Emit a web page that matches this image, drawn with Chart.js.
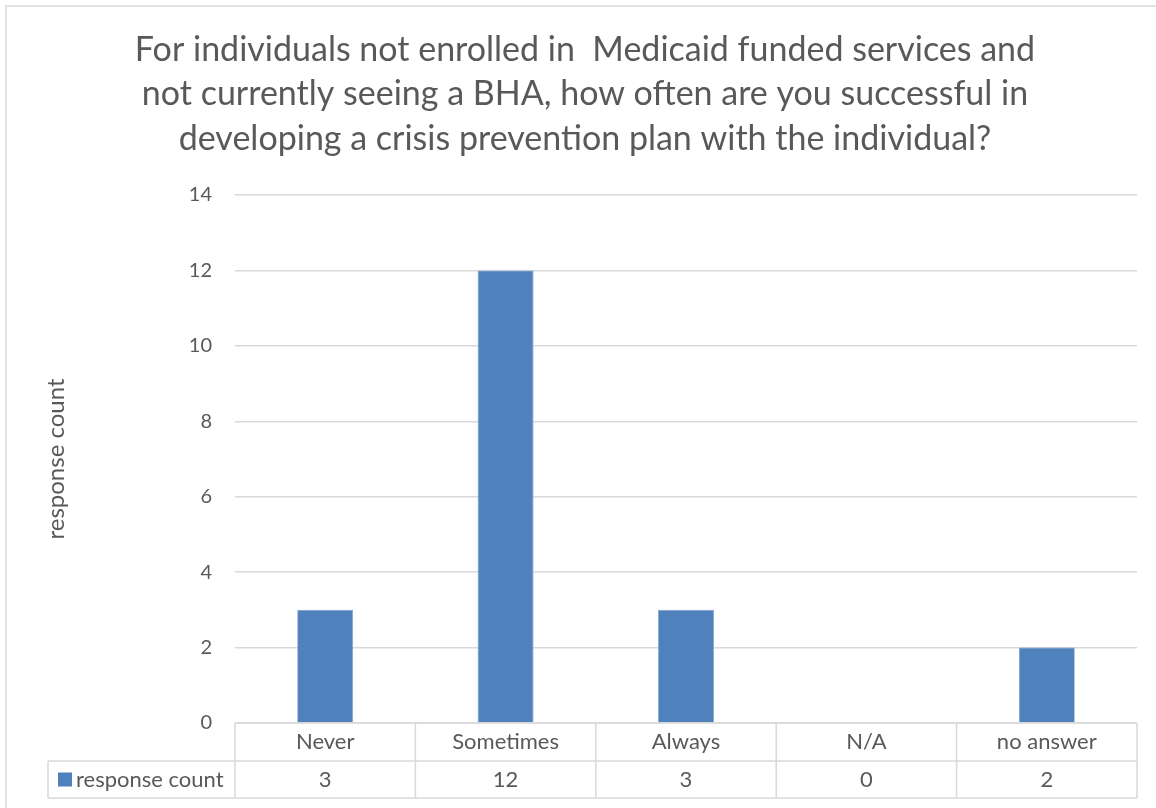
<!DOCTYPE html>
<html>
<head>
<meta charset="utf-8">
<script src="https://cdn.jsdelivr.net/npm/chart.js@4"></script>
<style>
  html, body { margin: 0; padding: 0; background: #ffffff; }
  #wrap { width: 1156px; height: 808px; position: relative; }
</style>
</head>
<body>
<div id="wrap"><canvas id="chart" width="1156" height="808"></canvas></div>
<script>
// Survey responses
const categories = ['Never', 'Sometimes', 'Always', 'N/A', 'no answer'];
const responseCount = [3, 12, 3, 0, 2];
const seriesName = 'response count';
const titleLines = [
  'For individuals not enrolled in  Medicaid funded services and',
  'not currently seeing a BHA, how often are you successful in',
  'developing a crisis prevention plan with the individual?'
];

const FONT = 'Lato, "Open Sans", sans-serif';
const TEXT = '#595959';
const LINE = '#d9d9d9';
const BAR = '#4f81bd';

// Frame, title and the data table underneath the plot
const decorations = {
  id: 'decorations',
  beforeDraw(chart) {
    const ctx = chart.ctx;
    ctx.save();
    ctx.fillStyle = '#ffffff';
    ctx.fillRect(0, 0, chart.width, chart.height);
    ctx.strokeStyle = LINE;
    ctx.lineWidth = 1.5;
    ctx.beginPath();
    ctx.moveTo(6, chart.height);
    ctx.lineTo(6, 6);
    ctx.lineTo(chart.width, 6);
    ctx.stroke();

    ctx.fillStyle = TEXT;
    ctx.font = '34px ' + FONT;
    ctx.textAlign = 'center';
    ctx.textBaseline = 'middle';
    titleLines.forEach((t, i) => ctx.fillText(t, 585, 50 + i * 44.5));
    ctx.restore();
  },
  afterDraw(chart) {
    const ctx = chart.ctx;
    const x = chart.scales.x;
    const area = chart.chartArea;
    const n = categories.length;
    const step = (area.right - area.left) / n;
    const row1Top = area.bottom;
    const row2Top = area.bottom + 38;
    const row2Bottom = area.bottom + 75;
    const legendLeft = 48;

    ctx.save();
    ctx.strokeStyle = LINE;
    ctx.lineWidth = 1.5;
    ctx.beginPath();
    // horizontal rules
    ctx.moveTo(area.left, row1Top); ctx.lineTo(area.right, row1Top);
    ctx.moveTo(legendLeft, row2Top); ctx.lineTo(area.right, row2Top);
    ctx.moveTo(legendLeft, row2Bottom); ctx.lineTo(area.right, row2Bottom);
    // vertical rules
    ctx.moveTo(legendLeft, row2Top); ctx.lineTo(legendLeft, row2Bottom);
    for (let i = 0; i <= n; i++) {
      const xx = area.left + i * step;
      ctx.moveTo(xx, row1Top); ctx.lineTo(xx, row2Bottom);
    }
    ctx.stroke();

    ctx.fillStyle = TEXT;
    ctx.font = '22px ' + FONT;
    ctx.textAlign = 'center';
    ctx.textBaseline = 'middle';
    categories.forEach((c, i) => {
      const cx = x.getPixelForValue(i);
      ctx.fillText(c, cx, (row1Top + row2Top) / 2);
      ctx.fillText(String(responseCount[i]), cx, (row2Top + row2Bottom) / 2);
    });

    // legend key
    const midY = (row2Top + row2Bottom) / 2;
    ctx.fillStyle = BAR;
    ctx.fillRect(58, midY - 7, 14, 14);
    ctx.fillStyle = TEXT;
    ctx.textAlign = 'left';
    ctx.fillText(seriesName, 76, midY);
    ctx.restore();
  }
};

new Chart(document.getElementById('chart'), {
  type: 'bar',
  data: {
    labels: categories,
    datasets: [{
      label: seriesName,
      data: responseCount,
      backgroundColor: BAR,
      borderColor: '#7aa0d0',
      borderWidth: 0.8,
      barPercentage: 0.31,
      categoryPercentage: 1.0
    }]
  },
  options: {
    responsive: false,
    animation: false,
    events: [],
    layout: { padding: { left: 6, right: 19, top: 195, bottom: 85 } },
    plugins: {
      legend: { display: false },
      title: { display: false },
      tooltip: { enabled: false }
    },
    scales: {
      x: { display: false, offset: true },
      y: {
        min: 0,
        max: 14,
        ticks: { stepSize: 2, color: TEXT, font: { family: FONT, size: 20 }, padding: 23 },
        grid: { color: LINE, lineWidth: 1.5, drawTicks: false },
        border: { display: false },
        title: {
          display: true,
          text: seriesName,
          color: TEXT,
          font: { family: FONT, size: 24 },
          padding: { top: 36, bottom: 0 }
        },
        afterFit(scale) { scale.width = 229; }
      }
    }
  },
  plugins: [decorations]
});
</script>
</body>
</html>
